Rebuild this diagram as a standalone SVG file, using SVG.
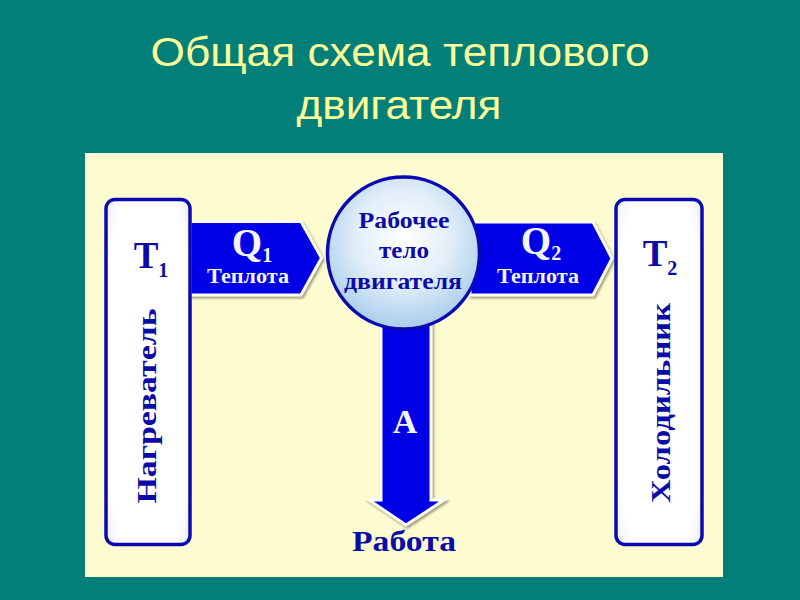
<svg xmlns="http://www.w3.org/2000/svg" width="800" height="600" viewBox="0 0 800 600">
<style>
.t{font-family:"Liberation Serif",serif;font-weight:bold;fill:#0b0ba8;text-anchor:middle}
.w{font-family:"Liberation Serif",serif;font-weight:bold;fill:#f4f4ff;text-anchor:middle}
.h{font-family:"Liberation Sans",sans-serif;font-size:41px;fill:#ffff99;text-anchor:middle}
.box{fill:url(#bf);stroke:#0a0ab0;stroke-width:3.5}
.arr{fill:#0000e6;stroke:#fbfbf4;stroke-width:3;filter:url(#sh)}
</style>
<defs>
<radialGradient id="ball" cx="0.5" cy="0.4" r="0.62">
<stop offset="0" stop-color="#ffffff"/><stop offset="0.5" stop-color="#e2eef9"/><stop offset="1" stop-color="#a4cbea"/>
</radialGradient>
<radialGradient id="bf" cx="0.5" cy="0.5" r="0.75">
<stop offset="0.75" stop-color="#ffffff"/><stop offset="1" stop-color="#e6e9fb"/>
</radialGradient>
<filter id="sh" x="-10%" y="-10%" width="125%" height="125%"><feDropShadow dx="1.5" dy="2" stdDeviation="1.2" flood-color="#77775a" flood-opacity="0.7"/></filter>
</defs>
<rect width="800" height="600" fill="#027f78"/>
<text class="h" x="400" y="66" textLength="499" lengthAdjust="spacingAndGlyphs">Общая схема теплового</text>
<text class="h" x="399" y="119" textLength="205" lengthAdjust="spacingAndGlyphs">двигателя</text>
<rect x="85" y="153" width="638" height="424" fill="#fdfcd0"/>
<g id="connectors">
<path class="arr" d="M190 221.500H301L321.500 258L301 295H190Z"/>
<path class="arr" d="M470 222H593L612 258.500L593 295H470Z"/>
<path class="arr" d="M381 320H431V500H444L406 525L369 500H381Z"/>
</g>
<g id="heater">
<rect class="box" x="106" y="199.500" width="84" height="345" rx="9"/>
<text class="t" x="151" y="268" font-size="37">T<tspan font-size="20" dy="9">1</tspan></text>
<text class="t" transform="translate(156 406) rotate(-90)" font-size="28" textLength="195" lengthAdjust="spacingAndGlyphs">Нагреватель</text>
</g>
<g id="cooler">
<rect class="box" x="616" y="199.500" width="86" height="345" rx="9"/>
<text class="t" x="660" y="266" font-size="37">T<tspan font-size="20" dy="9">2</tspan></text>
<text class="t" transform="translate(670 403) rotate(-90)" font-size="28" textLength="200" lengthAdjust="spacingAndGlyphs">Холодильник</text>
</g>
<g id="q1"><text class="w" x="252" y="256" font-size="39">Q<tspan font-size="20" dy="6">1</tspan></text>
<text class="w" x="248" y="283" font-size="20" textLength="82" lengthAdjust="spacingAndGlyphs">Теплота</text></g>
<g id="q2"><text class="w" x="541" y="254" font-size="39">Q<tspan font-size="20" dy="6">2</tspan></text>
<text class="w" x="538" y="283" font-size="20" textLength="82" lengthAdjust="spacingAndGlyphs">Теплота</text></g>
<g id="body">
<circle cx="403.500" cy="253" r="76" fill="url(#ball)" stroke="#0a0ab0" stroke-width="3.500"/>
<text class="t" x="404" y="228" font-size="24" textLength="91" lengthAdjust="spacingAndGlyphs">Рабочее</text>
<text class="t" x="404" y="258" font-size="24" textLength="50" lengthAdjust="spacingAndGlyphs">тело</text>
<text class="t" x="403" y="289" font-size="24" textLength="118" lengthAdjust="spacingAndGlyphs">двигателя</text>
</g>
<text class="w" x="405" y="433" font-size="34">А</text>
<text class="t" x="404" y="551" font-size="30" textLength="104" lengthAdjust="spacingAndGlyphs">Работа</text>
</svg>
